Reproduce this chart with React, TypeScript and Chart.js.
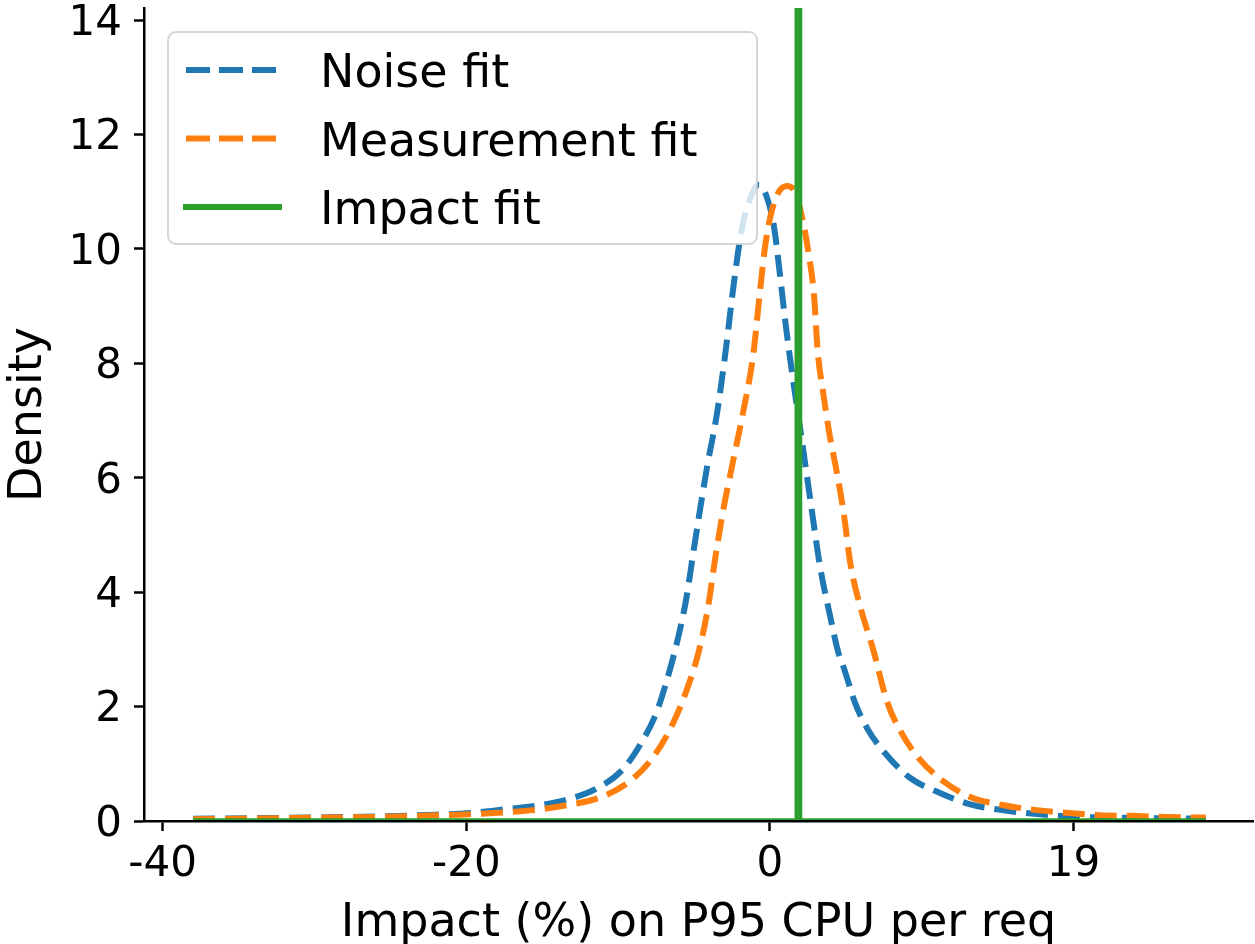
import React, { useEffect, useRef } from "react";
import { Chart, registerables } from "chart.js";

Chart.register(...registerables);

// ---- data ----
const seriesLabels = ["Noise fit", "Measurement fit", "Impact fit"];
const seriesColors = ["#1f77b4", "#ff7f0e", "#2ca02c"];

const noiseX = [-38.0, -34.0, -30.0, -26.0, -22.0, -19.7, -17.6, -15.3, -13.3, -11.4, -9.7, -8.4, -7.5, -6.8, -6.05, -5.5, -5.07, -4.6, -4.1, -3.5, -2.9, -2.4, -1.85, -1.2, -0.72, -0.2, 0.26, 0.66, 1.05, 1.5, 1.97, 2.4, 2.8, 3.3, 3.95, 4.5, 4.9, 5.6, 6.45, 7.6, 9.2, 11.2, 13.2, 15.3, 17.6, 19.7, 22.0, 25.0, 28.7];
const noiseY = [0.04, 0.05, 0.06, 0.08, 0.11, 0.14, 0.2, 0.27, 0.38, 0.57, 0.9, 1.4, 1.88, 2.45, 3.2, 3.9, 4.65, 5.45, 6.25, 7.1, 8.25, 9.35, 10.35, 10.95, 11.12, 10.9, 10.4, 9.55, 8.65, 7.75, 6.9, 6.1, 5.35, 4.45, 3.6, 2.95, 2.65, 2.07, 1.6, 1.18, 0.76, 0.49, 0.29, 0.19, 0.12, 0.08, 0.06, 0.05, 0.04];

const measX = [-38.0, -35.0, -32.0, -29.0, -26.0, -23.0, -20.5, -17.6, -15.3, -13.3, -11.2, -9.2, -7.6, -6.4, -5.4, -4.7, -4.1, -3.6, -3.1, -2.5, -1.8, -1.1, -0.66, -0.26, 0.33, 1.1, 1.65, 2.2, 2.5, 2.9, 3.15, 3.5, 3.9, 4.4, 4.85, 5.3, 6.0, 6.8, 7.7, 8.6, 9.8, 11.3, 13.2, 15.3, 17.6, 19.7, 21.7, 23.9, 26.1, 28.7];
const measY = [0.03, 0.04, 0.05, 0.06, 0.07, 0.09, 0.11, 0.15, 0.2, 0.28, 0.41, 0.7, 1.15, 1.7, 2.35, 2.95, 3.7, 4.6, 5.4, 6.2, 7.1, 8.15, 9.25, 10.15, 10.85, 11.1, 11.0, 10.45, 10.0, 9.2, 8.2, 7.5, 6.8, 6.1, 5.4, 4.5, 3.7, 3.0, 2.1, 1.57, 1.1, 0.72, 0.42, 0.28, 0.19, 0.14, 0.1, 0.09, 0.07, 0.06];

const impactX = [-38.0, 1.8, 1.8, 1.95, 1.95, 28.7];
const impactY = [0, 0, 60, 60, 0, 0];

const xTickValues = [-40, -20, 0, 20];
const xTickLabels = ["-40", "-20", "0", "19"];
const yTickValues = [0, 2, 4, 6, 8, 10, 12, 14];
const yTickLabels = ["0", "2", "4", "6", "8", "10", "12", "14"];

const xTitle = "Impact (%) on P95 CPU per req";
const yTitle = "Density";

const FONT = "'DejaVu Sans', sans-serif";
const LW = 6;
const DASH = [22, 10];

const toPoints = (xs: number[], ys: number[]) => xs.map((x, i) => ({ x, y: ys[i] }));

const boxLegend = {
  id: "boxLegend",
  afterDraw(chart: any) {
    const { ctx, chartArea } = chart;
    const x0 = chartArea.left + 24;
    const y0 = chartArea.top + 24;
    const w = 589;
    const h = 212;
    ctx.save();
    ctx.beginPath();
    ctx.roundRect(x0, y0, w, h, 8);
    ctx.fillStyle = "rgba(255,255,255,0.8)";
    ctx.fill();
    ctx.strokeStyle = "rgba(204,204,204,0.8)";
    ctx.lineWidth = 2;
    ctx.stroke();
    seriesLabels.forEach((label, i) => {
      const cy = y0 + 38 + i * 68.5;
      ctx.beginPath();
      ctx.strokeStyle = seriesColors[i];
      ctx.lineWidth = LW;
      ctx.lineCap = "butt";
      if (i < 2) {
        ctx.setLineDash([24, 9]);
        ctx.moveTo(x0 + 18, cy);
        ctx.lineTo(x0 + 108, cy);
      } else {
        ctx.setLineDash([]);
        ctx.moveTo(x0 + 15, cy);
        ctx.lineTo(x0 + 114, cy);
      }
      ctx.stroke();
      ctx.setLineDash([]);
      ctx.fillStyle = "#000";
      ctx.font = `46px ${FONT}`;
      ctx.textAlign = "left";
      ctx.textBaseline = "alphabetic";
      ctx.fillText(label, x0 + 152, cy + 17);
    });
    ctx.restore();
  },
};

export default function App() {
  const ref = useRef<HTMLCanvasElement | null>(null);

  useEffect(() => {
    if (!ref.current) return;
    const chart = new Chart(ref.current, {
      type: "line",
      data: {
        datasets: [
          {
            label: seriesLabels[0],
            data: toPoints(noiseX, noiseY),
            borderColor: seriesColors[0],
            borderWidth: LW,
            borderDash: DASH,
            borderCapStyle: "butt",
            cubicInterpolationMode: "monotone",
            pointRadius: 0,
            fill: false,
            order: 2,
          },
          {
            label: seriesLabels[1],
            data: toPoints(measX, measY),
            borderColor: seriesColors[1],
            borderWidth: LW,
            borderDash: DASH,
            borderCapStyle: "butt",
            cubicInterpolationMode: "monotone",
            pointRadius: 0,
            fill: false,
            order: 1,
          },
          {
            label: seriesLabels[2],
            data: toPoints(impactX, impactY),
            borderColor: seriesColors[2],
            borderWidth: 5.5,
            tension: 0,
            pointRadius: 0,
            fill: false,
            order: 0,
          },
        ],
      },
      options: {
        animation: false,
        responsive: false,
        maintainAspectRatio: false,
        layout: { padding: { top: 8, right: 2, left: 0, bottom: 0 } },
        plugins: { legend: { display: false }, tooltip: { enabled: false } },
        elements: { point: { radius: 0 } },
        scales: {
          x: {
            type: "linear",
            min: -41.23,
            max: 31.82,
            afterBuildTicks: (s: any) => {
              s.ticks = xTickValues.map((v) => ({ value: v }));
            },
            afterFit: (s: any) => {
              s.height = 123;
              s.paddingLeft = 0;
              s.paddingRight = 0;
            },
            ticks: {
              callback: (_v: any, i: number) => xTickLabels[i],
              font: { family: FONT, size: 42 },
              color: "#000",
              padding: 9,
              maxRotation: 0,
              autoSkip: false,
            },
            grid: {
              drawOnChartArea: false,
              drawTicks: true,
              tickLength: 10,
              tickWidth: 2.5,
              tickColor: "#000",
            },
            border: { display: true, color: "#000", width: 2.5, z: 1 },
            title: {
              display: true,
              text: xTitle,
              font: { family: FONT, size: 46, lineHeight: 0.86 },
              color: "#000",
              padding: 0,
            },
          },
          y: {
            type: "linear",
            min: 0,
            max: 14.21,
            afterBuildTicks: (s: any) => {
              s.ticks = yTickValues.map((v) => ({ value: v }));
            },
            afterFit: (s: any) => {
              s.width = 144;
              s.paddingTop = 0;
              s.paddingBottom = 0;
            },
            ticks: {
              callback: (_v: any, i: number) => yTickLabels[i],
              font: { family: FONT, size: 42 },
              color: "#000",
              padding: 12,
              labelOffset: 4,
              autoSkip: false,
            },
            grid: {
              drawOnChartArea: false,
              drawTicks: true,
              tickLength: 10,
              tickWidth: 2.5,
              tickColor: "#000",
            },
            border: { display: true, color: "#000", width: 2.5, z: 1 },
            title: {
              display: true,
              text: yTitle,
              font: { family: FONT, size: 46 },
              color: "#000",
              padding: { top: 1, bottom: 0 },
            },
          },
        },
      },
      plugins: [boxLegend],
    } as any);
    return () => chart.destroy();
  }, []);

  return (
    <div style={{ position: "fixed", left: 0, top: 0, width: 1255, height: 944, background: "#fff" }}>
      <canvas ref={ref} width={1255} height={944} style={{ display: "block" }} />
    </div>
  );
}
